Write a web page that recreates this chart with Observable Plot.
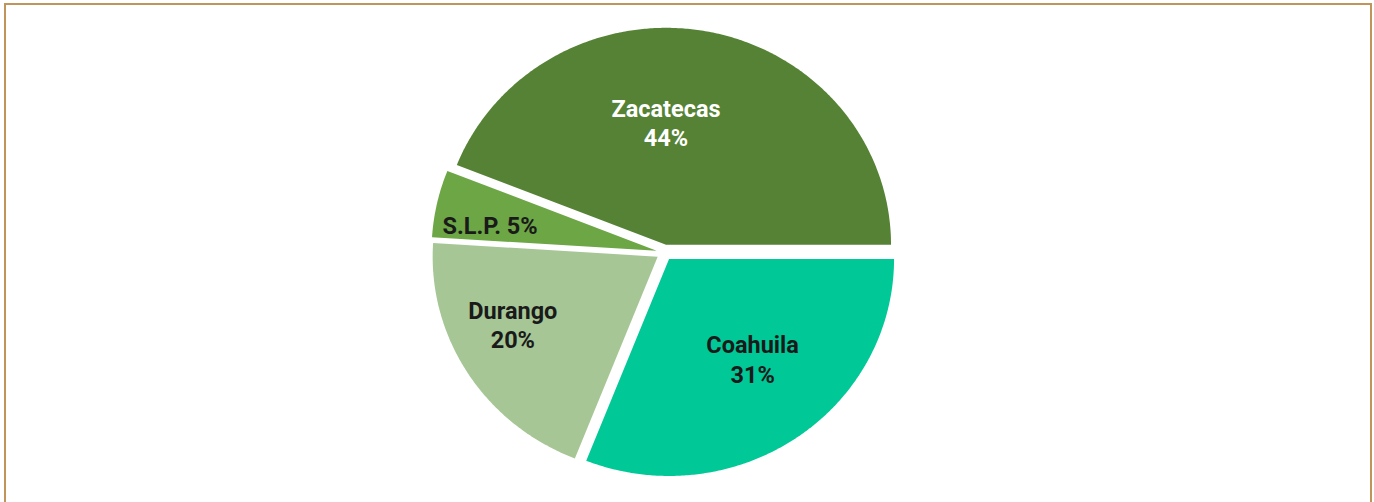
<!DOCTYPE html>
<html>
<head>
<meta charset="utf-8">
<script src="https://cdn.jsdelivr.net/npm/d3@7"></script>
<script src="https://cdn.jsdelivr.net/npm/@observablehq/plot@0.6"></script>
<style>
  html, body { margin: 0; padding: 0; background: #ffffff; overflow: hidden; }
  #chart { position: absolute; left: 0; top: 0; width: 1374px; height: 502px; }
  #frame { position: absolute; left: 4px; top: 3px; width: 1364px; height: 499px;
           border: 2px solid #c0955a; border-bottom: none; pointer-events: none; }
</style>
</head>
<body>
<div id="chart"></div>
<div id="frame"></div>
<script>
// ---- data ----
const names  = ["Coahuila", "Durango", "S.L.P.", "Zacatecas"];
const shares = [31, 20, 5, 44];
const labels = ["Coahuila\n31%", "Durango\n20%", "S.L.P. 5%", "Zacatecas\n44%"];

// ---- style / layout config ----
const colors     = ["#00c896", "#a6c695", "#6ca645", "#558234"];
const textColors = ["#1a1a1a", "#1a1a1a", "#1a1a1a", "#ffffff"];
const explode = 0.036;                 // offset of each slice along its bisector (unit radius)
const labelPlacement = {               // radius fraction and angle tweak (deg) for label anchor
  "Coahuila":  {r: 0.59, turn: -4.8},
  "Durango":   {r: 0.715, turn: 6.6},
  "S.L.P.":    {r: 0.75, turn: -3.2},
  "Zacatecas": {r: 0.565, turn: -10.8}
};

const rows = names.map((n, i) => ({name: n, share: shares[i], label: labels[i],
                                   color: colors[i], textColor: textColors[i]}));

const arcs = d3.pie().sort(null).value(d => d.share)
  .startAngle(Math.PI / 2).endAngle(Math.PI / 2 + 2 * Math.PI)(rows);

const polys = [];
const labelRows = [];
for (const a of arcs) {
  const mid = (a.startAngle + a.endAngle) / 2;
  const cx = explode * Math.sin(mid), cy = explode * Math.cos(mid);
  polys.push({name: a.data.name, x: cx, y: cy});
  const steps = Math.max(8, Math.ceil((a.endAngle - a.startAngle) / (Math.PI / 360)));
  for (let k = 0; k <= steps; k++) {
    const t = a.startAngle + (a.endAngle - a.startAngle) * k / steps;
    polys.push({name: a.data.name, x: cx + Math.sin(t), y: cy + Math.cos(t)});
  }
  polys.push({name: a.data.name, x: cx, y: cy});
  const lp = labelPlacement[a.data.name];
  const la = mid + lp.turn * Math.PI / 180;
  labelRows.push({name: a.data.name, label: a.data.label, textColor: a.data.textColor,
                  x: cx + lp.r * Math.sin(la), y: cy + lp.r * Math.cos(la)});
}

const chart = Plot.plot({
  width: 1374,
  height: 502,
  marginLeft: 439,
  marginRight: 485,
  marginTop: 35,
  marginBottom: 33,
  style: {background: "transparent"},
  x: {domain: [-1, 1], axis: null},
  y: {domain: [-1, 1], axis: null},
  color: {domain: names, range: colors},
  marks: [
    Plot.line(polys, {x: "x", y: "y", z: "name", fill: "name", stroke: "none", curve: "linear"}),
    Plot.text(labelRows, {
      x: "x", y: "y", text: "label", fill: "textColor",
      fontFamily: "Roboto, 'Liberation Sans', sans-serif",
      fontWeight: "bold", fontSize: 23.5, lineHeight: 1.25, lineAnchor: "middle", textAnchor: "middle"
    })
  ]
});
document.getElementById("chart").appendChild(chart);
</script>
</body>
</html>
